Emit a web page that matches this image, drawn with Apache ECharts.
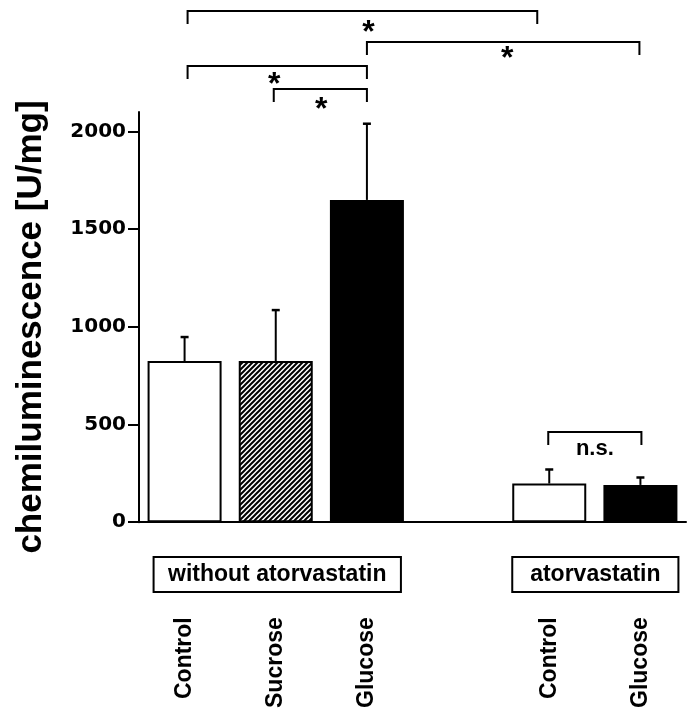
<!DOCTYPE html>
<html><head><meta charset="utf-8">
<script src="https://cdn.jsdelivr.net/npm/echarts@6/dist/echarts.min.js"></script>
<style>html,body{margin:0;padding:0;background:#fff}#c{width:690px;height:711px}</style>
</head><body><div id="c"></div>
<script>
// ---- data ----
const categories = ['Control', 'Sucrose', 'Glucose', '', 'Control', 'Glucose'];
const meanValues = [825, 825, 1650, null, 198, 191];
const sdValues = [123, 261, 390, null, 72, 38];
const yTicks = [0, 500, 1000, 1500, 2000];
const groupLabels = ['without atorvastatin', 'atorvastatin'];
const groupFrom = [0, 4];
const groupTo = [2, 5];
// significance brackets: from / to category index, level (axis value units), label
const sigFrom = [0, 2, 0, 1, 4];
const sigTo = [4, 5, 2, 2, 5];
const sigLevel = [2615, 2460, 2338, 2220, 460];
const sigLabel = ['*', '*', '*', '*', 'n.s.'];

// ---- styles ----
const fills = ['white', 'hatch', 'black', null, 'white', 'black'];
const sigTrim = [[3, -12], [0, -1], [3, 0], [-2, 0], [-1, 1]];
const sigLabelDx = [6, 4, -3, 1, 0];
const sigLabelDy = [15, 10, 12, 14, 0];
const groupPad = [[31, 34], [37, 38]];
const FONT = '"Liberation Sans", Arial, sans-serif';

function hatchCanvas() {
  const s = 5;
  const c = document.createElement('canvas');
  c.width = s; c.height = s;
  const g = c.getContext('2d');
  g.fillStyle = '#fff'; g.fillRect(0, 0, s, s);
  g.strokeStyle = '#000'; g.lineWidth = 2;
  g.beginPath();
  g.moveTo(0, s); g.lineTo(s, 0);
  g.moveTo(-1, 1); g.lineTo(1, -1);
  g.moveTo(s - 1, s + 1); g.lineTo(s + 1, s - 1);
  g.stroke();
  return c;
}
const hatch = { image: hatchCanvas(), repeat: 'repeat' };

function fillOf(k) {
  if (k === 'white') return '#ffffff';
  if (k === 'black') return '#000000';
  if (k === 'hatch') return hatch;
  return 'transparent';
}

const barData = meanValues.map((v, i) => v == null ? '-' : {
  value: v,
  itemStyle: { color: fillOf(fills[i]), borderColor: '#000', borderWidth: 2 }
});
const errData = [];
meanValues.forEach((v, i) => { if (v != null) errData.push([i, v, v + sdValues[i]]); });

const chart = echarts.init(document.getElementById('c'), null, { renderer: 'canvas' });
chart.setOption({
  animation: false,
  backgroundColor: '#fff',
  grid: { left: 139, right: 4, top: 112, bottom: 188, containLabel: false },
  xAxis: {
    type: 'category',
    data: categories,
    boundaryGap: true,
    axisLine: { lineStyle: { color: '#000', width: 2 } },
    axisTick: { show: false },
    axisLabel: {
      rotate: 90, margin: 95, interval: 0,
      color: '#000', fontFamily: FONT, fontWeight: 'bold', fontSize: 23
    },
    splitLine: { show: false }
  },
  yAxis: {
    type: 'value',
    min: 0, max: 2100, interval: 500,
    axisLine: { show: true, lineStyle: { color: '#000', width: 2 } },
    axisTick: { show: true, length: 11, customValues: yTicks, lineStyle: { color: '#000', width: 2 } },
    axisLabel: {
      customValues: yTicks, margin: 13,
      formatter: v => String(v),
      color: '#000', fontFamily: '"DejaVu Sans", sans-serif', fontWeight: 'bold', fontSize: 20
    },
    splitLine: { show: false }
  },
  series: [
    {
      type: 'bar',
      data: barData,
      barWidth: 74,
      z: 2
    },
    {
      type: 'custom',
      data: errData,
      z: 1,
      renderItem: function (params, api) {
        const b = api.coord([api.value(0), api.value(1)]);
        const t = api.coord([api.value(0), api.value(2)]);
        return {
          type: 'group',
          children: [
            { type: 'line', shape: { x1: b[0], y1: b[1], x2: b[0], y2: t[1] }, style: { stroke: '#000', lineWidth: 2 } },
            { type: 'line', shape: { x1: b[0] - 4, y1: t[1], x2: b[0] + 4, y2: t[1] }, style: { stroke: '#000', lineWidth: 2.5 } }
          ]
        };
      }
    }
  ]
});

const px = i => chart.convertToPixel({ xAxisIndex: 0 }, i);
const py = v => chart.convertToPixel({ yAxisIndex: 0 }, v);
const graphics = [];

// y axis title
graphics.push({
  type: 'text', x: 31, y: 327, rotation: Math.PI / 2,
  style: { text: 'chemiluminescence [U/mg]', font: 'bold 35px ' + FONT, fill: '#000', align: 'center', verticalAlign: 'middle' }
});

// significance brackets
sigFrom.forEach((f, k) => {
  const x1 = px(f) + sigTrim[k][0];
  const x2 = px(sigTo[k]) + sigTrim[k][1];
  const y = Math.round(py(sigLevel[k]));
  graphics.push({
    type: 'polyline',
    shape: { points: [[x1, y + 13], [x1, y], [x2, y], [x2, y + 13]] },
    style: { stroke: '#000', lineWidth: 2, fill: null }
  });
  const isStar = sigLabel[k] === '*';
  const cx = (x1 + x2) / 2 + sigLabelDx[k];
  graphics.push({
    type: 'text',
    x: cx,
    y: isStar ? y + sigLabelDy[k] + 7 : y + 16.5,
    style: {
      text: sigLabel[k], font: (isStar ? 'bold 32px ' : 'bold 22px ') + FONT,
      fill: '#000', align: 'center', verticalAlign: 'middle'
    }
  });
});

// group boxes
groupLabels.forEach((g, k) => {
  const x1 = px(groupFrom[k]) - groupPad[k][0];
  const x2 = px(groupTo[k]) + groupPad[k][1];
  graphics.push({
    type: 'rect', shape: { x: x1, y: 557, width: x2 - x1, height: 35 },
    style: { stroke: '#000', lineWidth: 2, fill: '#fff' }
  });
  graphics.push({
    type: 'text', x: (x1 + x2) / 2, y: 575,
    style: { text: g, font: 'bold 23px ' + FONT, fill: '#000', align: 'center', verticalAlign: 'middle' }
  });
});

chart.setOption({ graphic: graphics });
</script>
</body></html>
